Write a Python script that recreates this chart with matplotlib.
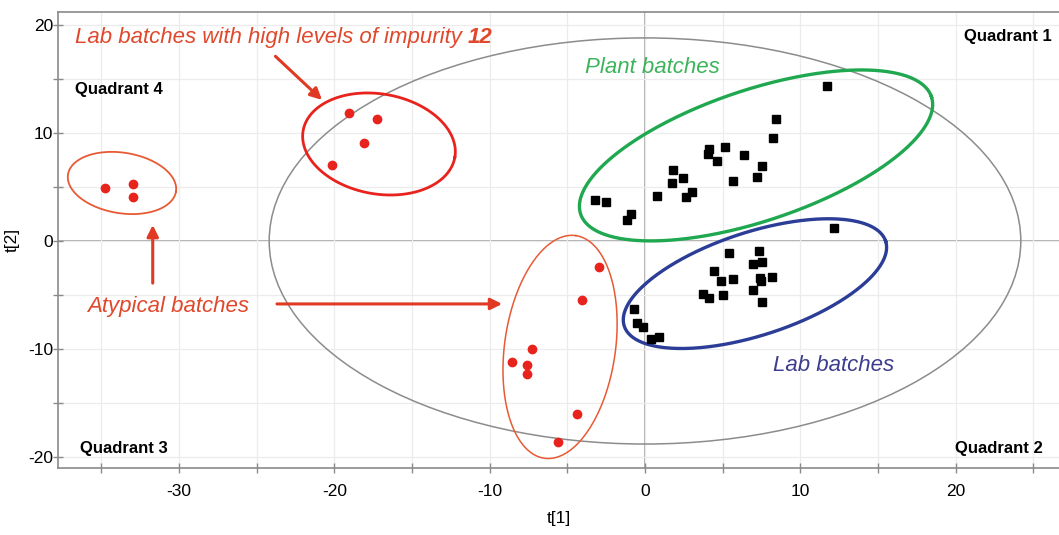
"""
PCA score plot (t[1] vs t[2]) of plant, lab and atypical batches.
"""
import matplotlib.pyplot as plt
import numpy as np
from matplotlib.patches import Ellipse

plt.rcParams['font.family'] = ['Liberation Sans', 'DejaVu Sans']
plt.rcParams['axes.unicode_minus'] = False

# Scores, plant batches
plant_t1 = [11.70, 8.44, 8.24, 5.17, 4.10, 4.04, 4.64, 6.36, 7.55, 7.19, 5.65,
            1.82, 2.43, 1.74, 3.05, 2.64, 0.79, -3.20, -2.51, -0.90, -1.14]
plant_t2 = [14.38, 11.27, 9.54, 8.68, 8.49, 8.06, 7.44, 7.96, 6.94, 5.95, 5.53,
            6.57, 5.86, 5.37, 4.54, 4.10, 4.14, 3.80, 3.64, 2.47, 1.94]

# Scores, lab batches
lab_t1 = [12.17, 5.43, 7.34, 6.95, 7.51, 4.46, 4.89, 5.65, 7.42, 7.49, 8.20,
          6.95, 7.51, 5.04, 3.72, 4.10, -0.71, -0.50, -0.15, 0.37, 0.90]
lab_t2 = [1.23, -1.08, -0.93, -2.10, -1.94, -2.78, -3.70, -3.55, -3.40, -3.70,
          -3.36, -4.51, -5.65, -4.97, -4.91, -5.25, -6.32, -7.62, -7.96, -9.07,
          -8.92]

# Lab batches with high impurity 12
impurity_t1 = [-19.06, -17.26, -18.10, -20.15]
impurity_t2 = [11.85, 11.30, 9.07, 7.04]

# Atypical batches
atypical_t1 = [-34.8, -33.0, -33.0, -2.98, -4.06, -7.30, -8.58, -7.58, -7.58,
               -4.38, -5.60]
atypical_t2 = [4.9, 5.3, 4.1, -2.44, -5.46, -10.0, -11.18, -11.48, -12.34,
               -16.0, -18.58]

# Hotelling T2 (95%) ellipse half-axes
t2_radius_t1 = 24.2
t2_radius_t2 = 18.8

RED_TEXT = '#e0482c'
RED = '#e8231d'
GREEN = '#1fa84f'
BLUE = '#2b3d96'
NARROW = ['Liberation Sans Narrow', 'Liberation Sans', 'DejaVu Sans']


def draw_ring(ax, centre, a, b, angle, **kwargs):
    """
    Outline an ellipse around a group of scores.  a and b are half-axes in
    t[1] units, angle is the on-screen rotation in degrees.
    """
    px = ax.transData.transform([(0, 0), (1, 0)])
    k = px[1, 0] - px[0, 0]
    phi = np.linspace(0, 2 * np.pi, 400)
    th = np.radians(angle)
    dx = a * k * np.cos(phi) * np.cos(th) - b * k * np.sin(phi) * np.sin(th)
    dy = a * k * np.cos(phi) * np.sin(th) + b * k * np.sin(phi) * np.cos(th)
    c = ax.transData.transform(centre)
    pts = ax.transData.inverted().transform(np.column_stack([c[0] + dx, c[1] + dy]))
    ax.plot(pts[:, 0], pts[:, 1], **kwargs)


fig = plt.figure(figsize=(10.59, 5.35), dpi=100)
ax = fig.add_axes([58 / 1059, 1 - 468 / 535, 1 - 58 / 1059, 456 / 535])
ax.set_xlim(-37.8, 26.66)
ax.set_ylim(-21.02, 21.2)

ax.set_xticks([-30, -20, -10, 0, 10, 20])
ax.set_xticks([-35, -25, -15, -5, 5, 15, 25], minor=True)
ax.set_yticks([-20, -10, 0, 10, 20])
ax.set_yticks([-15, -5, 5, 15], minor=True)
ax.grid(True, which='both', color='#ececec', lw=0.9, zorder=0)
ax.tick_params(which='both', direction='inout', length=7, width=1,
               color='#8a8a8a', labelsize=12.5)
ax.tick_params(axis='x', pad=8)
ax.tick_params(axis='y', pad=0)
for lbl in ax.get_xticklabels() + ax.get_yticklabels():
    lbl.set_family(NARROW)
ax.spines['right'].set_visible(False)
for side in ('left', 'top', 'bottom'):
    ax.spines[side].set_color('#8a8a8a')
    ax.spines[side].set_linewidth(1.2)

ax.axhline(0, color='#a0a0a0', lw=1.2, zorder=1)
ax.axvline(0, color='#a0a0a0', lw=1.2, zorder=1)

ax.add_patch(Ellipse((0, 0), 2 * t2_radius_t1, 2 * t2_radius_t2,
                     fill=False, color='#8c8c8c', lw=1.1, zorder=2))

ax.plot(plant_t1, plant_t2, 's', color='black', ms=5.5, zorder=4)
ax.plot(lab_t1, lab_t2, 's', color='black', ms=5.5, zorder=4)
ax.plot(impurity_t1, impurity_t2, 'o', color=RED, ms=6, zorder=4)
ax.plot(atypical_t1, atypical_t2, 'o', color=RED, ms=6, zorder=4)

# Group outlines
draw_ring(ax, (7.15, 7.92), 11.91, 4.22, 18.5, color=GREEN, lw=2.4, zorder=3)
draw_ring(ax, (7.08, -3.95), 8.85, 3.32, 18, color=BLUE, lw=2.4, zorder=3)
draw_ring(ax, (-17.13, 8.98), 4.96, 3.22, -10, color=RED, lw=2.0, zorder=3)
draw_ring(ax, (-33.68, 5.37), 3.52, 1.95, -9, color='#e85a34', lw=1.3, zorder=3)
draw_ring(ax, (-5.47, -9.81), 7.24, 3.57, 82, color='#e85a34', lw=1.1, zorder=3)

italic = dict(fontsize=16, style='italic', va='center')
ax.text(-36.7, 18.8, 'Lab batches with high levels of impurity ', color=RED_TEXT,
        **italic)
ax.annotate('12', xy=(1, 0.5), xycoords=ax.texts[-1], va='center', ha='left',
            fontsize=16, style='italic', weight='bold', color=RED_TEXT)
ax.text(-3.86, 16.1, 'Plant batches', color='#3cb45a', **italic)
ax.text(8.24, -11.5, 'Lab batches', color='#3d3d8f', **italic)
ax.text(-35.9, -6.1, 'Atypical batches', color=RED_TEXT, **italic)

quad = dict(fontsize=12, weight='bold', va='center', color='black')
ax.text(-36.7, 14.07, 'Quadrant 4', ha='left', **quad)
ax.text(26.2, 18.9, 'Quadrant 1', ha='right', **quad)
ax.text(-36.4, -19.17, 'Quadrant 3', ha='left', **quad)
ax.text(25.6, -19.26, 'Quadrant 2', ha='right', **quad)

arrow = dict(arrowstyle='-|>', color='#e03a24', lw=2.2, mutation_scale=17,
             shrinkA=0, shrinkB=0)
ax.annotate('', xy=(-20.8, 13.06), xytext=(-23.8, 17.1), arrowprops=arrow)
ax.annotate('', xy=(-31.7, 1.48), xytext=(-31.7, -3.9), arrowprops=arrow)
ax.annotate('', xy=(-9.2, -5.83), xytext=(-23.7, -5.83), arrowprops=arrow)

ax.set_xlabel('t[1]', fontsize=12.5, labelpad=9, family=NARROW)
ax.set_ylabel('t[2]', fontsize=12.5, labelpad=6, family=NARROW)

fig.savefig('out.png', dpi=100)
